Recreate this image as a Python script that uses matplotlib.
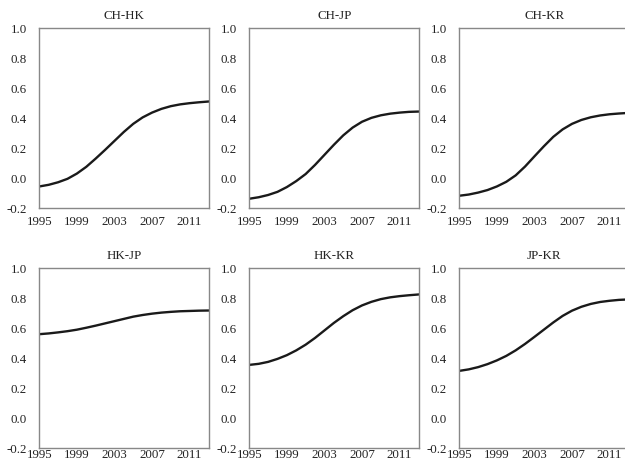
import matplotlib
matplotlib.use("Agg")
import matplotlib.pyplot as plt

plt.rcParams['font.family'] = ['Liberation Serif', 'DejaVu Serif']
plt.rcParams['font.size'] = 9.3

years = [1995, 1996, 1997, 1998, 1999, 2000, 2001, 2002, 2003, 2004,
         2005, 2006, 2007, 2008, 2009, 2010, 2011, 2012, 2013]

# readings, one value per year
ch_hk = [-0.056, -0.045, -0.028, -0.005, 0.03, 0.075, 0.13, 0.188, 0.248, 0.308,
         0.362, 0.405, 0.437, 0.462, 0.48, 0.492, 0.5, 0.506, 0.511]
ch_jp = [-0.138, -0.128, -0.113, -0.092, -0.06, -0.02, 0.027, 0.088, 0.155, 0.222,
         0.285, 0.337, 0.376, 0.402, 0.419, 0.43, 0.437, 0.442, 0.444]
ch_kr = [-0.118, -0.11, -0.097, -0.08, -0.056, -0.025, 0.018, 0.077, 0.145, 0.212,
         0.275, 0.325, 0.362, 0.388, 0.406, 0.418, 0.426, 0.431, 0.435]
hk_jp = [0.56, 0.565, 0.572, 0.58, 0.59, 0.603, 0.617, 0.632, 0.647, 0.662,
         0.677, 0.688, 0.697, 0.704, 0.709, 0.713, 0.715, 0.717, 0.718]
hk_kr = [0.355, 0.362, 0.375, 0.395, 0.42, 0.452, 0.49, 0.535, 0.585, 0.635,
         0.68, 0.72, 0.752, 0.776, 0.794, 0.806, 0.814, 0.82, 0.825]
jp_kr = [0.315, 0.325, 0.34, 0.36, 0.385, 0.415, 0.452, 0.495, 0.542, 0.59,
         0.638, 0.682, 0.717, 0.743, 0.762, 0.775, 0.783, 0.789, 0.792]

titles = ['CH-HK', 'CH-JP', 'CH-KR', 'HK-JP', 'HK-KR', 'JP-KR']
series = [ch_hk, ch_jp, ch_kr, hk_jp, hk_kr, jp_kr]
xticks = [1995, 1999, 2003, 2007, 2011]
yticks = [-0.2, 0.0, 0.2, 0.4, 0.6, 0.8, 1.0]

fig = plt.figure(figsize=(6.25, 4.66), dpi=100)

lefts = [0.0629, 0.3989, 0.7349]
bottoms = [0.5536, 0.0386]
w, h = 0.272, 0.3857

for i in range(6):
    ax = fig.add_axes([lefts[i % 3], bottoms[i // 3], w, h])
    ax.plot(years, series[i], color='#1a1a1a', linewidth=1.7,
            solid_joinstyle='round')
    ax.set_xlim(1995, 2013.1)
    ax.set_ylim(-0.2, 1.0)
    ax.set_xticks(xticks)
    ax.set_yticks(yticks)
    ax.set_yticklabels(['%.1f' % v for v in yticks])
    ax.tick_params(length=0, colors='#222222')
    # bottom row labels sit tight under the axis in the reference
    ax.tick_params(axis='x', pad=6 if i < 3 else 1)
    ax.tick_params(axis='y', pad=9)
    for s in ax.spines.values():
        s.set_color('#888888')
        s.set_linewidth(1.0)
    ax.set_title(titles[i], fontsize=9.3, color='#222222', pad=7)

fig.savefig('out.png', dpi=100)
